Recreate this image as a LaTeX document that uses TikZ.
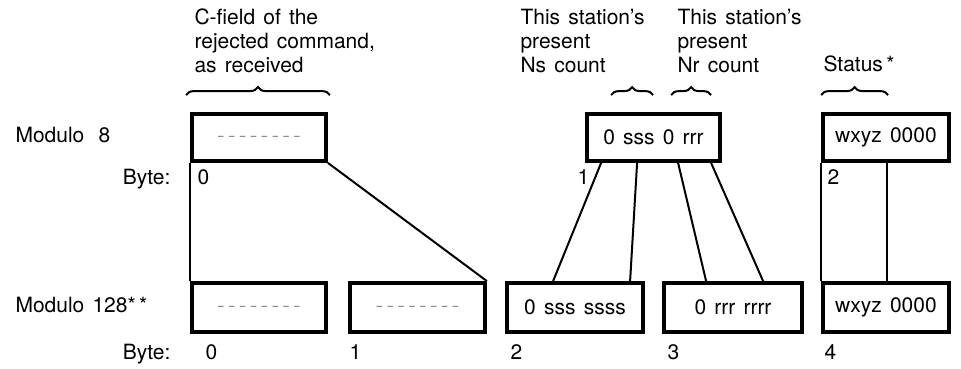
\documentclass[tikz,border=0pt]{standalone}
\usepackage{fontspec}
\setmainfont{TeX Gyre Heros}[WordSpace=1.4]
\usetikzlibrary{decorations.pathreplacing}
\newcommand{\dashrow}{{\fontsize{10}{10}\selectfont\color{black!75}%
  \textendash\hspace{5.3pt}\textendash\hspace{5.3pt}\textendash\hspace{5.3pt}\textendash\hspace{5.3pt}%
  \textendash\hspace{5.3pt}\textendash\hspace{5.3pt}\textendash\hspace{5.3pt}\textendash}}
\begin{document}
\begin{tikzpicture}[x=1pt,y=1pt,
	every node/.style={font=\fontsize{21}{24}\selectfont},
	field/.style={draw, line width=3.8pt, inner sep=0pt, minimum height=47pt},
	lowfield/.style={field, minimum height=49pt},
	link/.style={line width=2pt},
	brace/.style={decorate, decoration={brace, amplitude=8pt}, line width=2pt}]
		\useasboundingbox (0,0) rectangle (961,369);
		
		% modulo 8 fields
		\node[field, minimum width=134pt] (m8a) at (259,231.5) {\dashrow};
		\node[field, minimum width=133pt] (m8b) at (653.5,231.5) {0 sss 0 rrr};
		\node[field, minimum width=126pt] (m8c) at (886,231.5) {wxyz 0000};
		
		% modulo 128 fields
		\node[lowfield, minimum width=134pt] (m128a) at (259,61.5) {\dashrow};
		\node[lowfield, minimum width=135pt] (m128b) at (417.5,61.5) {\dashrow};
		\node[lowfield, minimum width=136pt] (m128c) at (575,61.5) {0 sss ssss};
		\node[lowfield, minimum width=138pt] (m128d) at (733,61.5) {0 rrr rrrr};
		\node[lowfield, minimum width=126pt] (m128e) at (886,61.5) {wxyz 0000};
		
		\draw[link] (m8a.south west) -- (m128a.north west);
		\draw[link] (m8a.south east) -- (m128b.north east);
		\draw[link] ([xshift=16pt]m8b.south west) -- ([xshift=48pt]m128c.north west);
		\draw[link] ([xshift=52pt]m8b.south west) -- ([xshift=125pt]m128c.north west);
		\draw[link] ([xshift=93pt]m8b.south west) -- ([xshift=44pt]m128d.north west);
		\draw[link] ([xshift=126pt]m8b.south west) -- ([xshift=101pt]m128d.north west);
		\draw[link] (m8c.south west) -- (m128e.north west);
		\draw[link] ([xshift=66pt]m8c.south west) -- ([xshift=66pt]m128e.north west);
		
		% braces over the fields
		\draw[brace] ([xshift=-4pt,yshift=17pt]m8a.north west) -- ([xshift=2pt,yshift=17pt]m8a.north east);
		\draw[brace] ([xshift=26pt,yshift=17pt]m8b.north west) -- ([xshift=68pt,yshift=17pt]m8b.north west);
		\draw[brace] ([xshift=86pt,yshift=17pt]m8b.north west) -- ([xshift=126pt,yshift=17pt]m8b.north west);
		\draw[brace] ([yshift=17pt]m8c.north west) -- ([xshift=67pt,yshift=17pt]m8c.north west);
		
		\node[anchor=west, align=left] (cfield) at (191,328) {C-field of the\\rejected command,\\as received};
		\node[anchor=west, align=left] (ns) at (517,328) {This station's\\present\\Ns count};
		\node[anchor=west, align=left] (nr) at (674,328) {This station's\\present\\Nr count};
		\node[anchor=base west] (status) at (820,297) {Status\,*};
		
		\node[anchor=base west] (mod8) at (12,226) {Modulo\hspace{6pt} 8};
		\node[anchor=base east] (byte8) at (174,184) {Byte:};
		\node[anchor=base west] (b8a) at (194,184) {0};
		\node[anchor=base west] (b8b) at (574,184) {1};
		\node[anchor=base west] (b8c) at (824,184) {2};
		
		\node[anchor=base west] (mod128) at (12,56) {Modulo 128*\,*};
		\node[anchor=base east] (byte128) at (174,9) {Byte:};
		\node[anchor=base west] (b128a) at (202,9) {0};
		\node[anchor=base west] (b128b) at (346,9) {1};
		\node[anchor=base west] (b128c) at (507,9) {2};
		\node[anchor=base west] (b128d) at (664,9) {3};
		\node[anchor=base west] (b128e) at (821,9) {4};
\end{tikzpicture}
\end{document}
